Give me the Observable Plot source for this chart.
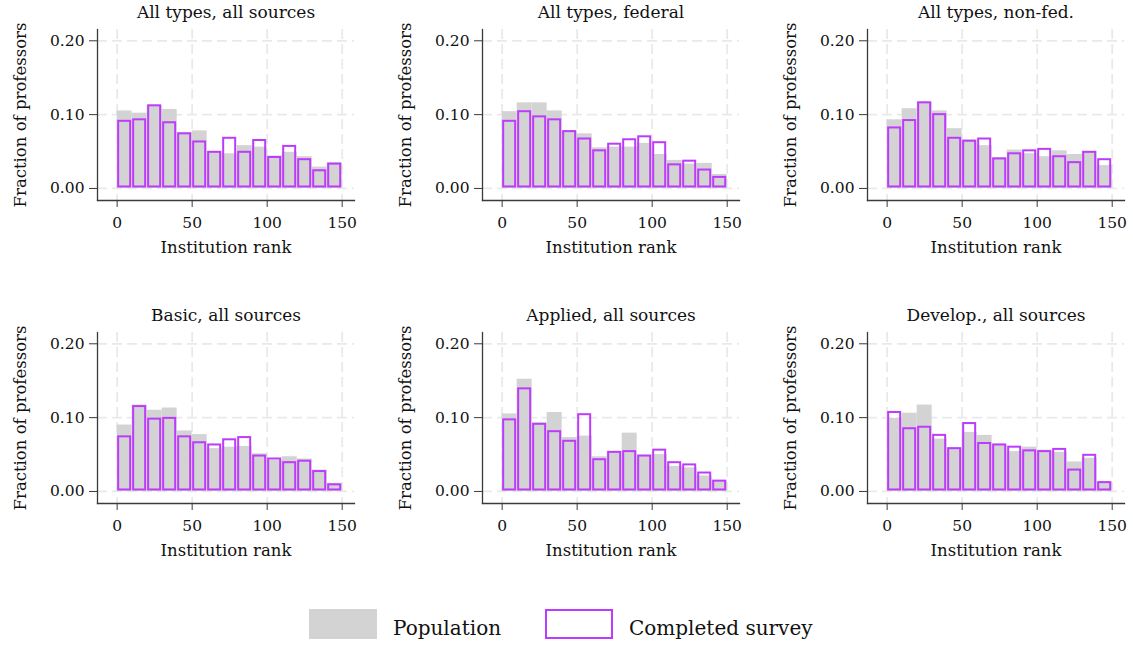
<!DOCTYPE html>
<html><head><meta charset="utf-8">
<script src="https://cdn.jsdelivr.net/npm/d3@7"></script>
<script src="https://cdn.jsdelivr.net/npm/@observablehq/plot@0.6"></script>
<style>
html,body{margin:0;padding:0;background:#fff;overflow:hidden;}
#wrap{position:relative;width:1133px;height:645px;font-family:"DejaVu Serif",serif;color:#111;}
.panel{position:absolute;}
.lg-box{position:absolute;box-sizing:border-box;}
.lg-txt{position:absolute;font-size:20px;line-height:20px;white-space:nowrap;}
</style></head><body><div id="wrap"></div>
<script>
// ---- data ----
const binStarts = [0,10,20,30,40,50,60,70,80,90,100,110,120,130,140];
const binWidth = 10;
const panelTitles = ["All types, all sources","All types, federal","All types, non-fed.",
                     "Basic, all sources","Applied, all sources","Develop., all sources"];
const xTicks = [0,50,100,150];
const yTicks = [0,0.1,0.2];
const seriesNames = ["Population","Completed survey"];

const popAllAll   = [0.105,0.102,0.112,0.107,0.076,0.078,0.050,0.047,0.058,0.056,0.044,0.049,0.043,0.029,0.035];
const survAllAll  = [0.093,0.095,0.114,0.091,0.076,0.065,0.051,0.070,0.051,0.067,0.044,0.059,0.041,0.026,0.035];
const popAllFed   = [0.104,0.116,0.116,0.105,0.078,0.074,0.055,0.056,0.056,0.061,0.046,0.038,0.033,0.034,0.019];
const survAllFed  = [0.093,0.106,0.099,0.095,0.079,0.069,0.053,0.062,0.068,0.072,0.064,0.034,0.039,0.027,0.017];
const popAllNon   = [0.093,0.108,0.117,0.105,0.081,0.066,0.058,0.042,0.052,0.047,0.043,0.051,0.046,0.050,0.031];
const survAllNon  = [0.084,0.094,0.118,0.102,0.070,0.066,0.069,0.042,0.049,0.053,0.055,0.045,0.037,0.051,0.041];
const popBasic    = [0.090,0.117,0.110,0.113,0.082,0.077,0.058,0.060,0.061,0.051,0.042,0.047,0.044,0.029,0.011];
const survBasic   = [0.076,0.117,0.100,0.101,0.076,0.068,0.065,0.072,0.075,0.050,0.046,0.041,0.043,0.029,0.011];
const popApplied  = [0.105,0.152,0.093,0.107,0.073,0.075,0.047,0.054,0.079,0.049,0.050,0.034,0.032,0.021,0.015];
const survApplied = [0.099,0.141,0.093,0.083,0.070,0.106,0.045,0.055,0.056,0.050,0.058,0.041,0.038,0.027,0.016];
const popDevelop  = [0.099,0.106,0.117,0.071,0.059,0.080,0.076,0.064,0.054,0.060,0.056,0.053,0.040,0.045,0.013];
const survDevelop = [0.109,0.087,0.089,0.078,0.060,0.094,0.067,0.065,0.062,0.057,0.056,0.059,0.031,0.051,0.014];

const popSeries  = [popAllAll, popAllFed, popAllNon, popBasic, popApplied, popDevelop];
const survSeries = [survAllAll, survAllFed, survAllNon, survBasic, survApplied, survDevelop];

// ---- style ----
const grayFill = "#d3d3d3";
const purple = "#bd3cfb";
const axisColor = "#3a3a3a";
const gridColor = "#e9e9e9";
const FONT = '"DejaVu Serif", serif';

function panel(i){
  const data = binStarts.map((s,j)=>({x1:s, x2:s+binWidth, pop:popSeries[i][j], surv:survSeries[i][j]}));
  return Plot.plot({
    width:370, height:262, marginLeft:97, marginRight:16, marginTop:29, marginBottom:62,
    style:{fontFamily:FONT, fontSize:"15px", color:"#111", background:"transparent", overflow:"visible"},
    x:{domain:[-13.1,158.2]},
    y:{domain:[-0.0163,0.2153]},
    marks:[
      Plot.gridX(xTicks,{stroke:gridColor, strokeOpacity:1, strokeWidth:1.8, strokeDasharray:"10,5"}),
      Plot.gridY(yTicks,{stroke:gridColor, strokeOpacity:1, strokeWidth:1.8, strokeDasharray:"10,5"}),
      Plot.rectY(data,{x1:"x1", x2:"x2", y:"pop", fill:grayFill}),
      Plot.rectY(data,{x1:"x1", x2:"x2", y:"surv", fill:"none", stroke:purple, strokeWidth:2, inset:1.5}),
      Plot.axisY(yTicks,{tickSize:8, tickPadding:5, tickFormat:d3.format(".2f"), label:null, stroke:axisColor, fontSize:15.5}),
      Plot.axisX(xTicks,{tickSize:7, tickPadding:9, label:null, stroke:axisColor, fontSize:15.5}),
      Plot.frame({anchor:"left", stroke:axisColor, strokeWidth:1.3}),
      Plot.frame({anchor:"bottom", stroke:axisColor, strokeWidth:1.3}),
      Plot.text([panelTitles[i]],{text:d=>d, frameAnchor:"top", dy:-17, lineAnchor:"middle", textAnchor:"middle", fontSize:17, fill:"#111"}),
      Plot.text(["Institution rank"],{text:d=>d, frameAnchor:"bottom", dy:47, lineAnchor:"middle", textAnchor:"middle", fontSize:16.5, fill:"#111"}),
      Plot.text(["Fraction of professors"],{text:d=>d, frameAnchor:"left", dx:-77, rotate:-90, lineAnchor:"middle", textAnchor:"middle", fontSize:16.5, fill:"#111"})
    ]
  });
}

const wrap = document.getElementById("wrap");
for (let i = 0; i < 6; i++){
  const col = i % 3, row = Math.floor(i / 3);
  const el = panel(i);
  el.classList.add("panel");
  el.style.left = (col*385) + "px";
  el.style.top = (row*302.5) + "px";
  wrap.appendChild(el);
}

// legend
function addBox(left, style){
  const b = document.createElement("div");
  b.className = "lg-box";
  Object.assign(b.style, {left:left+"px", top:"609px", width:"68px", height:"30px"}, style);
  wrap.appendChild(b);
}
function addTxt(left, t){
  const s = document.createElement("div");
  s.className = "lg-txt";
  s.textContent = t;
  Object.assign(s.style, {left:left+"px", top:"618px"});
  wrap.appendChild(s);
}
addBox(309, {background:grayFill});
addTxt(393, seriesNames[0]);
addBox(545, {border:"2px solid "+purple, background:"#fff"});
addTxt(629, seriesNames[1]);
</script></body></html>
